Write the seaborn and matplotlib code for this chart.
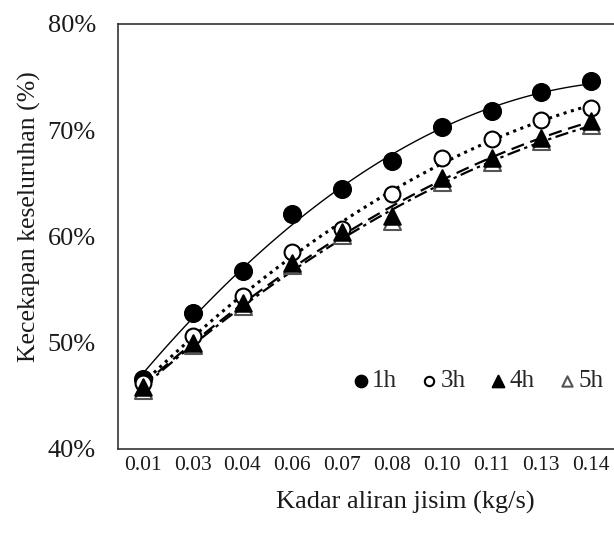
import numpy as np
import pandas as pd
import matplotlib
matplotlib.use("Agg")
import matplotlib.pyplot as plt
from matplotlib.ticker import PercentFormatter
import seaborn as sns

# ---- data ----
flow_labels = ["0.01", "0.03", "0.04", "0.06", "0.07", "0.08", "0.10", "0.11", "0.13", "0.14"]
eff_1h = [46.6, 52.8, 56.8, 62.1, 64.5, 67.1, 70.3, 71.8, 73.6, 74.6]
eff_3h = [46.2, 50.6, 54.4, 58.5, 60.7, 64.0, 67.4, 69.2, 71.0, 72.1]
eff_4h = [45.8, 50.0, 53.7, 57.5, 60.4, 61.9, 65.5, 67.4, 69.3, 70.9]
eff_5h = [45.6, 49.8, 53.5, 57.3, 60.1, 61.5, 65.1, 67.0, 69.0, 70.5]
series_labels = ["1h", "3h", "4h", "5h"]

y_ticks = [40, 50, 60, 70, 80]

sns.set_style("white")
plt.rcParams["font.family"] = ["Liberation Serif", "DejaVu Serif"]

fig = plt.figure(figsize=(6.14, 5.34), dpi=100)
ax = fig.add_axes([118 / 614, 85 / 534, 498 / 614, 425 / 534])

pos = np.arange(len(flow_labels))

styles = {
    "1h": dict(marker="o", fc="black", ec="black", ls="-", lw=1.0, ms=150, z=3),
    "3h": dict(marker="o", fc="white", ec="black", ls=(0, (1, 1.5)), lw=2.2, ms=130, z=4),
    "5h": dict(marker="^", fc="white", ec="#555555", ls=(0, (6, 2, 1.5, 2)), lw=1.6, ms=150, z=5),
    "4h": dict(marker="^", fc="black", ec="black", ls=(0, (6, 3)), lw=1.6, ms=140, z=6),
}
data = {"1h": eff_1h, "3h": eff_3h, "4h": eff_4h, "5h": eff_5h}

for name in ["1h", "3h", "5h", "4h"]:
    st = styles[name]
    df = pd.DataFrame({"x": pos, "y": data[name]})
    sns.regplot(
        data=df, x="x", y="y", order=2, ci=None, ax=ax, marker=st["marker"],
        label=name,
        scatter_kws=dict(s=st["ms"], facecolors=st["fc"], edgecolors=st["ec"],
                         linewidths=1.5, zorder=st["z"], alpha=1),
        line_kws=dict(color="black", ls=st["ls"], lw=st["lw"], zorder=2),
    )

ax.set_xlim(-0.5, len(flow_labels) - 0.5)
ax.set_ylim(40, 80)
ax.set_xticks(pos)
ax.set_xticklabels(flow_labels)
ax.set_yticks(y_ticks)
ax.yaxis.set_major_formatter(PercentFormatter(xmax=100, decimals=0))
ax.tick_params(axis="x", length=0, pad=5, labelsize=15.5, colors="#1a1a1a")
ax.tick_params(axis="y", length=0, pad=16, labelsize=19, colors="#1a1a1a")

for sp in ax.spines.values():
    sp.set_color("#333333")
    sp.set_linewidth(1.2)

ax.set_xlabel("Kadar aliran jisim (kg/s)", fontsize=19, color="#1a1a1a")
ax.set_ylabel("Kecekapan keseluruhan (%)", fontsize=18.5, color="#1a1a1a")
ax.xaxis.set_label_coords(0.576, -0.098)
ax.yaxis.set_label_coords(-0.155, 0.546)

handles, labels = ax.get_legend_handles_labels()
order = [labels.index(n) for n in series_labels]
leg = ax.legend([handles[i] for i in order], [labels[i] for i in order],
                ncol=4, frameon=False, loc="center right",
                bbox_to_anchor=(0.995, 0.16), fontsize=18,
                handletextpad=0.05, columnspacing=0.9, handlelength=0.8,
                borderaxespad=0.0)
sizes = {"1h": 70, "3h": 45, "4h": 70, "5h": 55}
for h, n in zip(leg.legend_handles, series_labels):
    h.set_sizes([sizes[n]])

fig.savefig("out.png", dpi=100)
